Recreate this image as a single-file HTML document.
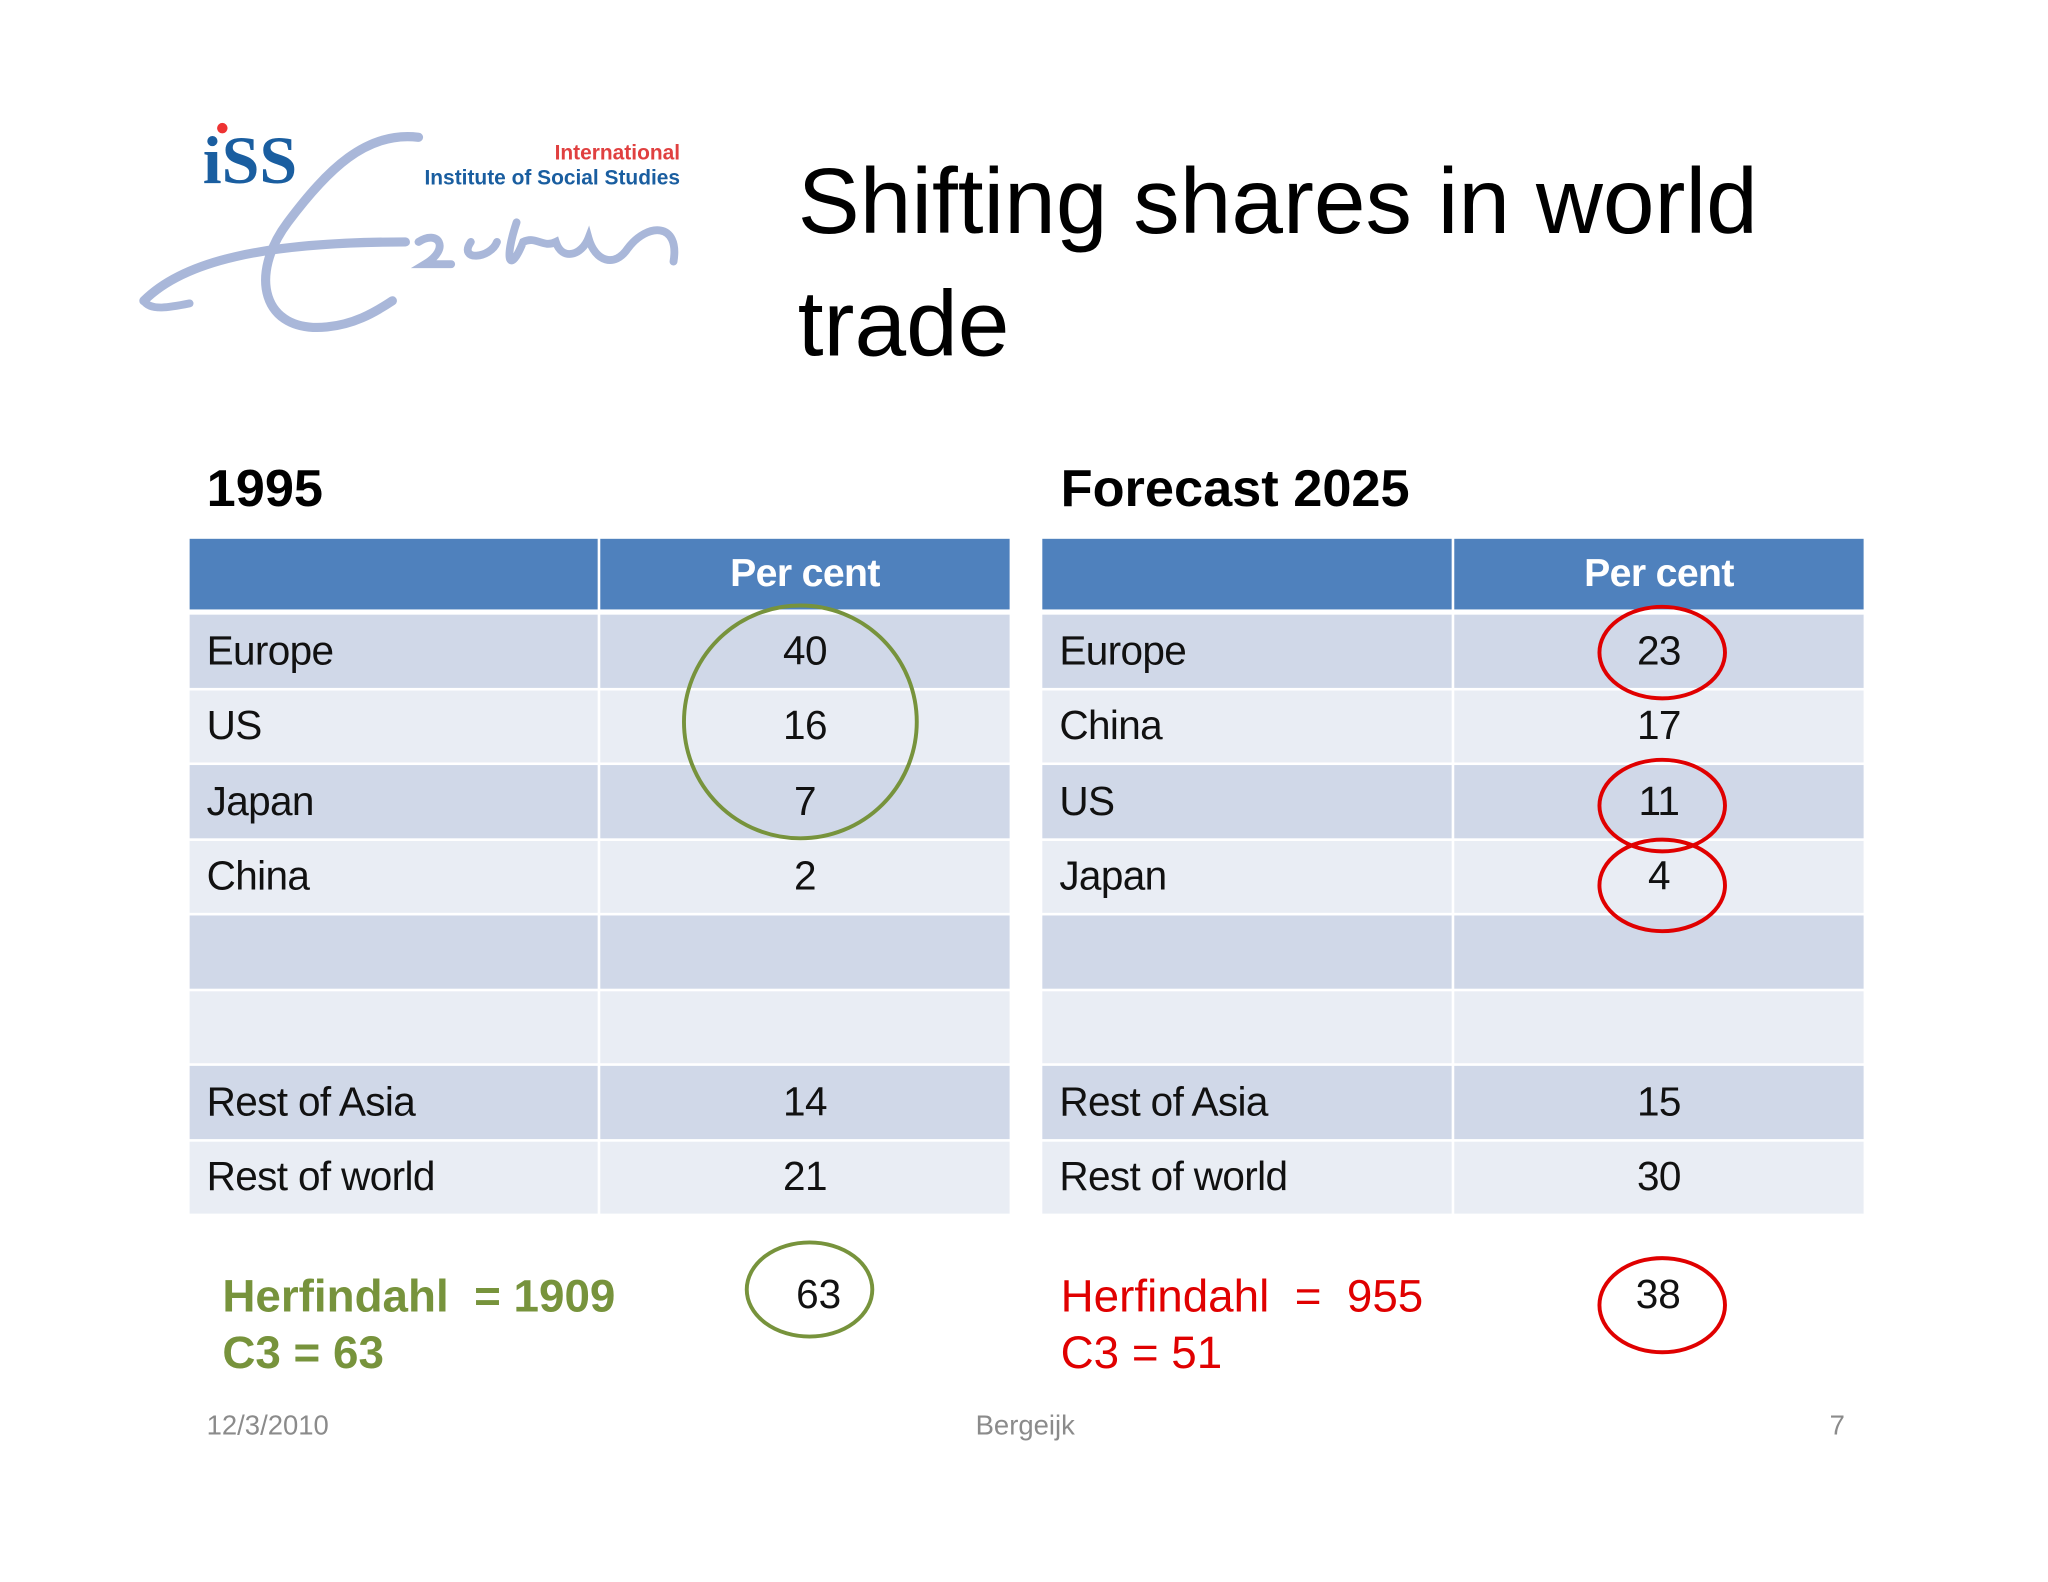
<!DOCTYPE html>
<html><head><meta charset="utf-8"><style>
html,body{margin:0;padding:0;background:#fff;width:2048px;height:1582px;overflow:hidden}
#s{position:absolute;left:0;top:0;width:1566px;height:1210px;transform:scale(1.3078);transform-origin:0 0;font-family:"Liberation Sans",sans-serif}
.a{position:absolute;white-space:nowrap}
.cell{position:absolute;box-sizing:border-box;font-size:31px;color:#111;display:flex;align-items:center;letter-spacing:-0.5px}
.hd{background:#4F81BD;color:#fff;font-weight:bold;justify-content:center;font-size:30px}
.o{background:#D0D8E8}.e{background:#E9EDF4}
.l{padding-left:13px}.c{justify-content:center}
</style></head><body>
<div id="s">
<svg class="a" style="left:100px;top:90px" width="440" height="170">
<g fill="none" stroke="#A9B7D9" stroke-linecap="round">
<path d="M220 15 C180 10 150 40 120 80 C90 120 100 165 150 160 C170 158 185 150 200 140" stroke-width="7"/>
<path d="M10 140 C40 110 100 95 210 95" stroke-width="7"/>
<path d="M10 140 C15 148 30 145 45 142" stroke-width="6"/>
<path d="M220 95 C235 85 245 100 225 112 L245 112 M260 95 C250 110 275 108 280 95 M295 80 C285 110 290 120 300 95 C310 90 315 100 325 95 C330 110 345 105 350 92 C355 110 370 115 380 100 C395 80 420 80 415 110" stroke-width="6"/>
</g>
<text x="55" y="50" font-family="Liberation Serif,serif" font-weight="bold" font-size="52" fill="#1a5ea0">iSS</text>
<circle cx="70" cy="8" r="4" fill="#e33"/>
<text x="420" y="32" text-anchor="end" font-weight="bold" font-size="16" fill="#e04040">International</text>
<text x="420" y="51" text-anchor="end" font-weight="bold" font-size="16" fill="#1a5ea0">Institute of Social Studies</text>
</svg>
<div class="a" style="left:610px;top:108px;font-size:71px;line-height:94px;color:#000">Shifting shares in world<br>trade</div>
<div class="a" style="left:158px;top:352px;font-size:40px;font-weight:bold">1995</div>
<div class="a" style="left:811px;top:352px;font-size:40px;font-weight:bold">Forecast 2025</div>
<div id="t"></div>
<svg class="a" style="left:0;top:0" width="1566" height="1210">
<g fill="none" stroke-width="3">
<ellipse cx="612" cy="552" rx="89" ry="89" stroke="#77933C"/>
<ellipse cx="619" cy="986" rx="48" ry="36" stroke="#77933C"/>
<ellipse cx="1271" cy="499" rx="48" ry="35" stroke="#E00000"/>
<ellipse cx="1271" cy="616" rx="48" ry="35" stroke="#E00000"/>
<ellipse cx="1271" cy="677" rx="48" ry="35" stroke="#E00000"/>
<ellipse cx="1271" cy="998" rx="48" ry="36" stroke="#E00000"/>
</g>
<text x="626" y="1000" text-anchor="middle" font-size="31" fill="#111">63</text>
<text x="1268" y="1000" text-anchor="middle" font-size="31" fill="#111">38</text>
</svg>
<div class="a" style="left:170px;top:970px;font-size:35px;font-weight:bold;color:#77933C;line-height:43px">Herfindahl &nbsp;= 1909<br>C3 = 63</div>
<div class="a" style="left:811px;top:970px;font-size:35px;color:#E00000;line-height:43px">Herfindahl &nbsp;= &nbsp;955<br>C3 = 51</div>
<div class="a" style="left:158px;top:1079px;font-size:21px;color:#8b8b8b">12/3/2010</div>
<div class="a" style="left:746px;top:1079px;font-size:21px;color:#8b8b8b">Bergeijk</div>
<div class="a" style="left:1399px;top:1079px;font-size:21px;color:#8b8b8b">7</div>
</div>
<script>
const labels1995=["Europe","US","Japan","China","","","Rest of Asia","Rest of world"];
const values1995=["40","16","7","2","","","14","21"];
const labels2025=["Europe","China","US","Japan","","","Rest of Asia","Rest of world"];
const values2025=["23","17","11","4","","","15","30"];
const t=document.getElementById('t');
function mk(x,y,w,h,cls,txt,name){const d=document.createElement('div');d.className='cell '+cls;
d.style.left=x+'px';d.style.top=y+'px';d.style.width=w+'px';d.style.height=h+'px';d.textContent=txt;


t.appendChild(d);}
function table(x0,split,x1,labels,values,tag){
 mk(x0,412,split-x0-1,54,'hd','',tag+'-header-blank');
 mk(split+1,412,x1-split-1,54,'hd','Per cent',tag+'-header-percent');
 for(let i=0;i<labels.length;i++){const y=470+i*57.5;const cls=i%2==0?'o':'e';
  mk(x0,y,split-x0-1,55.5,cls+' l',labels[i],tag+'-label-'+i);
  mk(split+1,y,x1-split-1,55.5,cls+' c',values[i],tag+'-value-'+i);}
}
table(145,458,772,labels1995,values1995,'t1995');
table(797,1111,1425,labels2025,values2025,'t2025');
</script>
</body></html>
